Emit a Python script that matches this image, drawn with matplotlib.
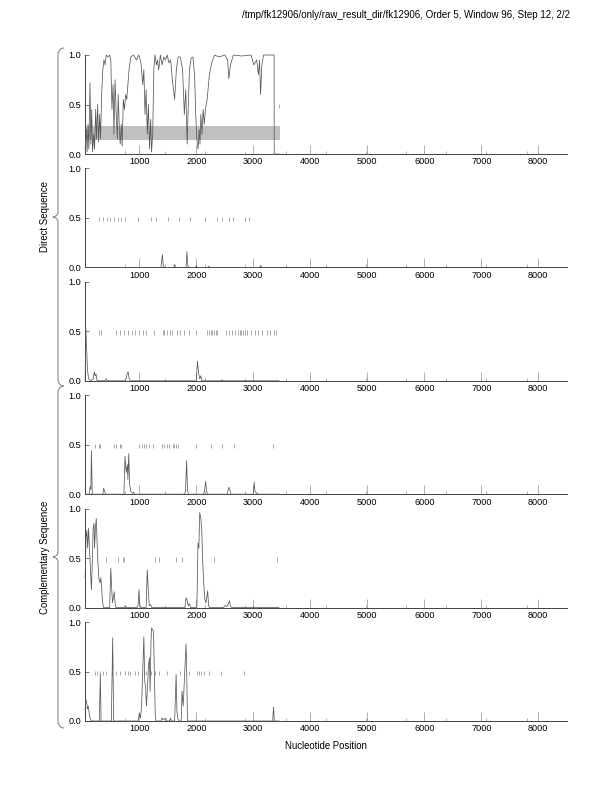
import numpy as np
import matplotlib
matplotlib.use("Agg")
import matplotlib.pyplot as plt
from matplotlib.path import Path
from matplotlib.patches import PathPatch

plt.rcParams['font.family'] = ['Liberation Sans', 'DejaVu Sans']

title = "/tmp/fk12906/only/raw_result_dir/fk12906, Order 5, Window 96, Step 12, 2/2"
x_label = "Nucleotide Position"
group_labels = ["Direct Sequence", "Complementary Sequence"]
x_ticks = [1000, 2000, 3000, 4000, 5000, 6000, 7000, 8000]
y_ticks = [0.0, 0.5, 1.0]
x_min, x_max = 44, 8500

# panel 1 (direct, frame 1)
p1_x = [50, 70, 85, 100, 115, 135, 150, 165, 180, 200, 215, 235, 250, 270, 285, 305, 320, 340,
        360, 380, 400, 420, 450, 480, 500, 520, 540, 555, 575, 595, 615, 630, 650, 665, 685, 700,
        720, 740, 760, 780, 800, 820, 850, 900, 950, 990, 1030, 1060, 1080, 1100, 1120, 1140,
        1160, 1180, 1200, 1215, 1235, 1255, 1275, 1300, 1320, 1340, 1370, 1400, 1430, 1460,
        1490, 1520, 1550, 1580, 1620, 1650, 1680, 1720, 1760, 1790, 1815, 1840, 1860, 1880,
        1910, 1940, 1970, 1990, 2010, 2030, 2050, 2065, 2080, 2100, 2120, 2140, 2160, 2190,
        2230, 2270, 2320, 2400, 2500, 2550, 2570, 2600, 2650, 2800, 2960, 3010, 3060, 3090,
        3110, 3127, 3150, 3180, 3300, 3365, 3367, 3450]
p1_y = [0.05, 0.25, 0.02, 0.30, 0.05, 0.72, 0.10, 0.45, 0.02, 0.20, 0.05, 0.45, 0.15, 0.50, 0.12,
        0.40, 0.15, 0.60, 0.85, 0.95, 0.90, 1.00, 0.98, 1.00, 0.95, 0.45, 0.70, 0.20, 0.75, 0.40,
        0.15, 0.60, 0.25, 0.10, 0.30, 0.08, 0.55, 0.45, 0.60, 0.55, 0.70, 0.85, 0.98, 1.00, 0.95,
        1.00, 0.92, 0.70, 0.85, 0.40, 0.65, 0.20, 0.50, 0.05, 0.35, 0.02, 0.20, 0.85, 1.00, 0.90,
        0.95, 0.85, 1.00, 0.90, 0.98, 0.95, 1.00, 0.92, 0.95, 0.75, 0.55, 0.85, 0.98, 0.98, 0.85,
        0.40, 0.65, 0.10, 0.50, 0.85, 0.97, 0.98, 0.80, 0.40, 0.15, 0.05, 0.25, 0.10, 0.40, 0.20,
        0.45, 0.30, 0.45, 0.55, 0.80, 0.92, 1.00, 0.98, 1.00, 0.95, 0.76, 0.90, 1.00, 0.99, 1.00,
        0.90, 0.95, 0.80, 0.95, 0.60, 0.90, 1.00, 1.00, 1.00, 0.00, 0.00]
p1_stops = [3450]

# panel 2 (direct, frame 2)
p2_x = [50, 1380, 1405, 1420, 1440, 1600, 1620, 1640, 1820, 1835, 1850, 1870, 1990, 2000, 2010,
        2200, 2220, 2240, 3110, 3130, 3150, 3450]
p2_y = [0, 0, 0.13, 0.02, 0, 0, 0.03, 0, 0, 0.16, 0.02, 0, 0, 0.02, 0, 0, 0.01, 0, 0, 0.02, 0, 0]
p2_stops = [287, 357, 434, 492, 550, 620, 680, 756, 972, 1207, 1300, 1499, 1705, 1898, 2144,
            2367, 2443, 2571, 2641, 2852, 2929]

# panel 3 (direct, frame 3)
p3_x = [50, 60, 75, 90, 110, 150, 190, 210, 225, 240, 260, 400, 420, 440, 760, 790, 805, 820,
        840, 2000, 2020, 2040, 2060, 2080, 2100, 2430, 2450, 2470, 3450]
p3_y = [0.0, 0.55, 0.35, 0.12, 0.02, 0.0, 0.02, 0.09, 0.05, 0.07, 0.0, 0.0, 0.02, 0.0, 0.0, 0.08,
        0.09, 0.03, 0.0, 0.0, 0.2, 0.08, 0.02, 0.05, 0.0, 0.0, 0.01, 0.0, 0.0]
p3_stops = [287, 328, 592, 656, 726, 797, 873, 931, 990, 1060, 1119, 1254, 1418, 1441, 1488,
            1535, 1576, 1664, 1711, 1793, 1869, 1998, 2191, 2220, 2250, 2279, 2308, 2338, 2367,
            2513, 2572, 2630, 2671, 2730, 2759, 2789, 2818, 2847, 2882, 2953, 3023, 3087, 3158,
            3234, 3292, 3363, 3404]

# panel 4 (complementary, frame 1)
p4_x = [50, 120, 140, 150, 160, 175, 360, 375, 395, 410, 730, 750, 770, 790, 800, 815, 830, 850,
        880, 900, 920, 1780, 1810, 1830, 1845, 1860, 2130, 2150, 2165, 2180, 2200, 2540, 2570,
        2590, 2610, 3000, 3015, 3030, 3060, 3100, 3450]
p4_y = [0, 0, 0.08, 0.05, 0.44, 0.0, 0, 0.06, 0.02, 0, 0, 0.38, 0.22, 0.30, 0.15, 0.41, 0.10,
        0.03, 0.01, 0.02, 0, 0, 0.02, 0.34, 0.05, 0, 0, 0.06, 0.13, 0.03, 0, 0, 0.07, 0.04, 0, 0,
        0.12, 0.03, 0.01, 0, 0]
p4_stops = [217, 287, 316, 551, 592, 656, 685, 1002, 1048, 1078, 1119, 1178, 1236, 1400, 1430,
            1488, 1518, 1588, 1617, 1647, 1676, 1998, 2250, 2455, 2660, 3345]

# panel 5 (complementary, frame 2)
p5_x = [50, 65, 80, 95, 110, 130, 150, 160, 175, 190, 205, 215, 230, 245, 260, 275, 290, 310,
        325, 340, 355, 375, 480, 500, 515, 530, 545, 560, 575, 590, 740, 755, 770, 960, 980, 995,
        1010, 1030, 1120, 1140, 1160, 1175, 1200, 1220, 1800, 1820, 1840, 1860, 1880, 1900, 2010,
        2030, 2045, 2060, 2080, 2095, 2110, 2130, 2150, 2170, 2200, 2215, 2230, 2480, 2500, 2540,
        2584, 2600, 2620, 2990, 3000, 3020, 3450]
p5_y = [0.30, 0.70, 0.78, 0.60, 0.80, 0.55, 0.30, 0.18, 0.45, 0.80, 0.85, 0.60, 0.80, 0.90, 0.65,
        0.45, 0.30, 0.25, 0.30, 0.20, 0.05, 0.0, 0.0, 0.40, 0.20, 0.05, 0.10, 0.16, 0.05, 0.0, 0,
        0.02, 0, 0, 0.03, 0.18, 0.02, 0, 0, 0.38, 0.15, 0.02, 0.03, 0, 0, 0.10, 0.07, 0.02, 0.04,
        0, 0, 0.65, 0.60, 0.96, 0.90, 0.80, 0.50, 0.25, 0.08, 0.05, 0.17, 0.02, 0, 0, 0.02, 0.01,
        0.07, 0.01, 0, 0, 0.01, 0, 0]
p5_stops = [422, 621, 715, 732, 1283, 1341, 1647, 1752, 2308, 3421]

# panel 6 (complementary, frame 3)
p6_x = [50, 60, 75, 90, 105, 120, 140, 160, 300, 316, 330, 510, 533, 550, 980, 1000, 1020, 1040,
        1060, 1080, 1095, 1110, 1125, 1140, 1160, 1178, 1190, 1205, 1215, 1235, 1250, 1265, 1280,
        1295, 1380, 1400, 1420, 1460, 1480, 1530, 1550, 1560, 1620, 1646, 1660, 1675, 1690, 1735,
        1750, 1770, 1790, 1820, 1830, 1845, 2000, 3340, 3355, 3370, 3450]
p6_y = [0.10, 0.22, 0.20, 0.12, 0.15, 0.08, 0.02, 0, 0, 0.47, 0, 0, 0.84, 0, 0, 0.08, 0.03, 0.15,
        0.50, 0.85, 0.40, 0.35, 0.15, 0.30, 0.55, 0.64, 0.30, 0.80, 0.94, 0.92, 0.90, 0.45, 0.05,
        0, 0, 0.03, 0.01, 0.03, 0, 0, 0.03, 0, 0, 0.47, 0.10, 0.03, 0, 0, 0.30, 0.15, 0.40, 0.78,
        0.55, 0, 0, 0, 0.14, 0, 0]
p6_stops = [217, 258, 305, 358, 422, 521, 598, 656, 756, 797, 844, 920, 978, 1078, 1119, 1207,
            1283, 1341, 1494, 1711, 1869, 2015, 2045, 2074, 2133, 2220, 2437, 2835]

# shaded band in the first panel
band_x = [x_min, 3465]
band_low, band_high = 0.14, 0.28

panels = [(p1_x, p1_y, p1_stops), (p2_x, p2_y, p2_stops), (p3_x, p3_y, p3_stops),
          (p4_x, p4_y, p4_stops), (p5_x, p5_y, p5_stops), (p6_x, p6_y, p6_stops)]

W, H = 612, 792
fig = plt.figure(figsize=(W / 100, H / 100), dpi=100)

ax_left, ax_right = 84.8, 566.8
minor = x_min + np.arange(1, 12) * (x_max - x_min) / 12.0
axes = []
for i, (xs, ys, stops) in enumerate(panels):
    top = 55 + 113.4 * i
    ax = fig.add_axes([ax_left / W, 1 - (top + 99) / H, (ax_right - ax_left) / W, 99 / H])
    if i == 0:
        ax.fill_between(band_x, band_low, band_high, color='#c0c0c0', lw=0, zorder=1)
    ax.plot(xs, ys, color='#585858', lw=0.55, zorder=3, clip_on=False)
    ax.vlines(stops, 0.465, 0.51, color='#9a9a9a', lw=0.6, zorder=2)
    ax.set_xlim(x_min, x_max)
    ax.set_ylim(0, 1.0)
    ax.set_xticks(x_ticks)
    ax.set_xticks(minor, minor=True)
    ax.set_yticks(y_ticks)
    ax.set_yticklabels(["0.0", "0.5", "1.0"])
    for s in ['top', 'right']:
        ax.spines[s].set_visible(False)
    for s in ['left', 'bottom']:
        ax.spines[s].set_linewidth(0.7)
        ax.spines[s].set_color('#404040')
    ax.patch.set_alpha(0)
    ax.tick_params(axis='x', which='major', direction='in', length=6.5, width=0.5,
                   color='#909090', labelsize=6.6, pad=2.5)
    ax.tick_params(axis='x', which='minor', direction='in', length=2.5, width=0.5,
                   color='#909090')
    ax.tick_params(axis='y', direction='in', length=3, width=0.5, color='#404040',
                   labelsize=6.6, pad=2.5)
    axes.append(ax)

# overlay in pixel coordinates for braces and labels
ov = fig.add_axes([0, 0, 1, 1], zorder=-1)
ov.set_xlim(0, W)
ov.set_ylim(H, 0)
ov.axis('off')


def brace(y0, y1):
    xm, xe, xc = 58, 64, 53
    ym = (y0 + y1) / 2
    verts = [(xe, y0), (59, y0), (xm, y0 + 6), (xm, ym - 5), (xm, ym - 1), (xc, ym),
             (xm, ym + 1), (xm, ym + 5), (xm, y1 - 6), (59, y1), (xe, y1)]
    codes = [Path.MOVETO, Path.CURVE3, Path.CURVE3, Path.LINETO, Path.CURVE3, Path.CURVE3,
             Path.CURVE3, Path.CURVE3, Path.LINETO, Path.CURVE3, Path.CURVE3]
    ov.add_patch(PathPatch(Path(verts, codes), fill=False, ec='#8a8a8a', lw=0.8))


brace(48, 386)
brace(386, 728)
ov.text(45, 217, group_labels[0], rotation=90, ha='center', va='center', fontsize=6.9)
ov.text(45, 557, group_labels[1], rotation=90, ha='center', va='center', fontsize=6.9)
ov.text((ax_left + ax_right) / 2, 746, x_label, ha='center', va='center', fontsize=6.9)
ov.text(570, 15, title, ha='right', va='center', fontsize=7.0)

fig.savefig("out.png", dpi=100)
